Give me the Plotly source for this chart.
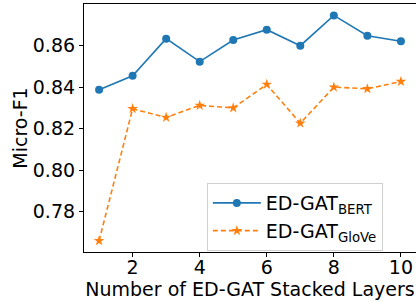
import plotly.graph_objects as go

layers = [1, 2, 3, 4, 5, 6, 7, 8, 9, 10]
bert = [0.8387, 0.8455, 0.8634, 0.8523, 0.8627, 0.8677, 0.8600, 0.8746, 0.8648, 0.8621]
glove = [0.7659, 0.8296, 0.8254, 0.8312, 0.8300, 0.8413, 0.8226, 0.8400, 0.8392, 0.8427]
x_ticks = [2, 4, 6, 8, 10]
y_ticks = [0.78, 0.80, 0.82, 0.84, 0.86]

FONT = "DejaVu Sans"

fig = go.Figure()
fig.add_trace(go.Scatter(
    x=layers, y=bert, mode="lines+markers",
    name="ED-GAT<sub>BERT</sub>",
    line=dict(color="#1f77b4", width=1.6),
    marker=dict(symbol="circle", size=8, color="#1f77b4"),
))
fig.add_trace(go.Scatter(
    x=layers, y=glove, mode="lines+markers",
    name="ED-GAT<sub>GloVe</sub>",
    line=dict(color="#ff7f0e", width=1.6, dash="5px,3px"),
    marker=dict(symbol="star", size=8, color="#ff7f0e"),
))

fig.update_layout(
    width=416, height=302,
    margin=dict(l=84, r=0, t=4, b=50, autoexpand=False),
    plot_bgcolor="white", paper_bgcolor="white",
    font=dict(family=FONT, size=19, color="black"),
    legend=dict(
        x=0.37, y=0.278, xanchor="left", yanchor="top",
        bgcolor="white", bordercolor="#d0d0d0", borderwidth=1,
        font=dict(family=FONT, size=19, color="black"),
        itemwidth=48,
    ),
)
fig.update_xaxes(
    range=[0.55, 10.45], tickvals=x_ticks, ticktext=[str(v) for v in x_ticks],
    showgrid=False, zeroline=False, showline=True, linecolor="black", linewidth=1.2,
    mirror=True, ticks="outside", ticklen=4, tickcolor="black", automargin=False,
    ticklabelstandoff=-6,
    title=dict(text="Number of ED-GAT Stacked Layers", standoff=2, font=dict(size=19)),
    tickfont=dict(size=19),
)
fig.update_yaxes(
    range=[0.7605, 0.8801], tickvals=y_ticks, ticktext=["%.2f" % v for v in y_ticks],
    showgrid=False, zeroline=False, showline=True, linecolor="black", linewidth=1.2,
    ticks="outside", ticklen=4, tickcolor="black", automargin=False,
    title=dict(text="Micro-F1", standoff=0, font=dict(size=19)),
    tickfont=dict(size=19),
)

fig.write_html(
    "out.html",
    config={"displayModeBar": False},
    post_script="document.body.style.margin='0px';document.body.style.overflow='hidden';",
)
